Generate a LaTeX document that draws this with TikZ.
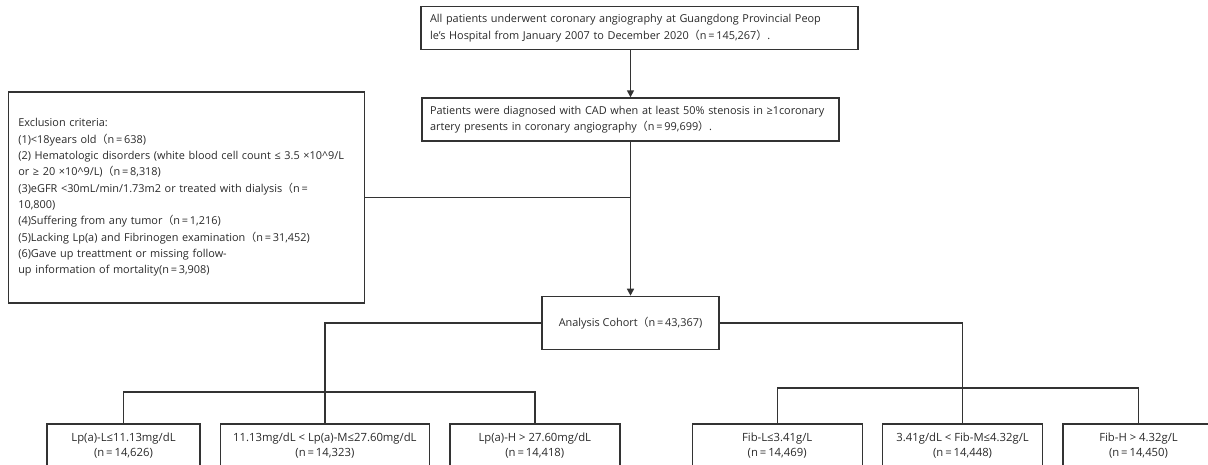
\documentclass[tikz,border=0pt]{standalone}
\usepackage{fontspec}
\setmainfont{Open Sans}
\newfontfamily\cjk{Noto Sans CJK SC}
\usetikzlibrary{positioning, arrows.meta}
\definecolor{linegray}{HTML}{333333}
\definecolor{textgray}{HTML}{2a2a2a}
% full-width brackets
\newcommand{\fwopen}{{\cjk （}}
\newcommand{\fwclose}{{\cjk ）}}

\begin{document}
\begin{tikzpicture}[
    x=1pt, y=-1pt,
    % Define the style for the boxes
    block/.style={
        rectangle,
        draw=linegray,
        line width=1.4pt,
        text=textgray,
        align=left,
        inner ysep=0pt,
        font=\fontsize{10.9}{16.3}\selectfont
    },
    % Define the style for the group boxes
    group/.style={
        block,
        align=center,
        minimum height=44pt,
        font=\fontsize{11.3}{15}\selectfont
    },
    % Define the style for the arrows
    line/.style={
        draw=linegray,
        line width=1.4pt
    },
    arr/.style={
        line,
        -{Triangle[width=7pt,length=7pt]}
    }
]
    \useasboundingbox (0,0) rectangle (1208,464);

    % Place the nodes (boxes)
    \node [block, text width=401pt, inner xsep=8pt, minimum height=43pt] (cad) at (630.5,119.5)
        {Patients were diagnosed with CAD when at least 50\% stenosis in ≥1coronary\\
         artery presents in coronary angiography\fwopen n\,=\,99,699\fwclose.};
    \node [block, text width=419pt, inner xsep=9pt, minimum height=43pt, above=47pt of cad, xshift=9pt] (top)
        {All patients underwent coronary angiography at Guangdong Provincial Peop\\
         le's Hospital from January 2007 to December 2020\fwopen n\,=\,145,267\fwclose.};
    \node [block, text width=336pt, inner xsep=10pt, minimum height=211pt, anchor=east] (excl) at (365,197.5)
        {Exclusion criteria:\\
         (1)<18years old\fwopen n\,=\,638)\\
         (2) Hematologic disorders (white blood cell count ≤ 3.5 ×10\^{}9/L\\
         or ≥ 20 ×10\^{}9/L)\fwopen n\,=\,8,318)\\
         (3)eGFR <30mL/min/1.73m2 or treated with dialysis\fwopen n\,=\\
         10,800)\\
         (4)Suffering from any tumor\fwopen n\,=\,1,216)\\
         (5)Lacking Lp(a) and Fibrinogen examination\fwopen n\,=\,31,452)\\
         (6)Gave up treattment or missing follow-\\
         up information of mortality(n\,=\,3,908)};
    \node [block, minimum width=177pt, minimum height=53pt, inner xsep=0pt, align=center, below=154pt of cad] (cohort)
        {Analysis Cohort\fwopen n\,=\,43,367)};

    \node [group, minimum width=153pt] (lpl) at (123.5,446) {Lp(a)-L≤11.13mg/dL\\(n\,=\,14,626)};
    \node [group, minimum width=209pt, right=19pt of lpl] (lpm) {11.13mg/dL < Lp(a)-M≤27.60mg/dL\\(n\,=\,14,323)};
    \node [group, minimum width=170pt, right=19pt of lpm] (lph) {Lp(a)-H > 27.60mg/dL\\(n\,=\,14,418)};
    \node [group, minimum width=170pt, right=71pt of lph] (fibl) {Fib-L≤3.41g/L\\(n\,=\,14,469)};
    \node [group, minimum width=160pt, right=19pt of fibl] (fibm) {3.41g/dL < Fib-M≤4.32g/L\\(n\,=\,14,448)};
    \node [group, minimum width=151pt, right=19pt of fibm] (fibh) {Fib-H > 4.32g/L\\(n\,=\,14,450)};

    \coordinate (lbar) at (0,392);
    \coordinate (rbar) at (0,388);

    % Draw the arrows
    \path [arr] (top.south -| cad.north) -- (cad.north);
    \path [arr] (cad.south) -- (cohort.north);
    \path [line] (excl.east) -- (excl.east -| cad.south);
    \path [line] (cohort.west) -| (lpm.north);
    \path [line] (cohort.east) -| (fibm.north);
    \path [line] (lpl.north) -- (lpl.north |- lbar) -- (lph.north |- lbar) -- (lph.north);
    \path [line] (fibl.north) -- (fibl.north |- rbar) -- (fibh.north |- rbar) -- (fibh.north);

\end{tikzpicture}
\end{document}
